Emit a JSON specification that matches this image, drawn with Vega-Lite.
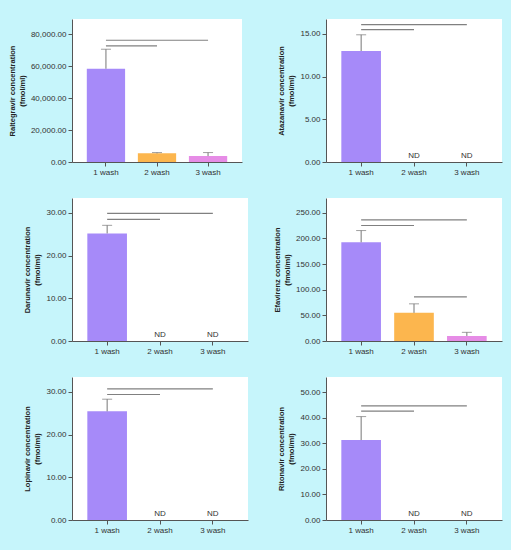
{
  "$schema": "https://vega.github.io/schema/vega-lite/v6.json",
  "background": "#C6F5FB",
  "padding": {"left": 8, "top": 19, "right": 12, "bottom": 17},
  "datasets": {
    "bars": [
      {"drug": "Raltegravir", "wash": "1 wash", "value": 58300, "upper": 70500},
      {"drug": "Raltegravir", "wash": "2 wash", "value": 5400, "upper": 5900},
      {"drug": "Raltegravir", "wash": "3 wash", "value": 3700, "upper": 5900},
      {"drug": "Atazanavir", "wash": "1 wash", "value": 13.0, "upper": 14.9},
      {"drug": "Darunavir", "wash": "1 wash", "value": 25.2, "upper": 27.1},
      {"drug": "Efavirenz", "wash": "1 wash", "value": 192.6, "upper": 215.5},
      {"drug": "Efavirenz", "wash": "2 wash", "value": 54.9, "upper": 72.5},
      {"drug": "Efavirenz", "wash": "3 wash", "value": 9.8, "upper": 16.9},
      {"drug": "Lopinavir", "wash": "1 wash", "value": 25.45, "upper": 28.3},
      {"drug": "Ritonavir", "wash": "1 wash", "value": 31.3, "upper": 40.5}
    ],
    "sig": [
      {"drug": "Raltegravir", "from": "1 wash", "to": "3 wash", "level": 76100},
      {"drug": "Raltegravir", "from": "1 wash", "to": "2 wash", "level": 72600},
      {"drug": "Atazanavir", "from": "1 wash", "to": "3 wash", "level": 16.1},
      {"drug": "Atazanavir", "from": "1 wash", "to": "2 wash", "level": 15.5},
      {"drug": "Darunavir", "from": "1 wash", "to": "3 wash", "level": 29.9},
      {"drug": "Darunavir", "from": "1 wash", "to": "2 wash", "level": 28.5},
      {"drug": "Efavirenz", "from": "1 wash", "to": "3 wash", "level": 236.3},
      {"drug": "Efavirenz", "from": "1 wash", "to": "2 wash", "level": 225.3},
      {"drug": "Efavirenz", "from": "2 wash", "to": "3 wash", "level": 86.2},
      {"drug": "Lopinavir", "from": "1 wash", "to": "3 wash", "level": 30.7},
      {"drug": "Lopinavir", "from": "1 wash", "to": "2 wash", "level": 29.4},
      {"drug": "Ritonavir", "from": "1 wash", "to": "3 wash", "level": 44.7},
      {"drug": "Ritonavir", "from": "1 wash", "to": "2 wash", "level": 42.6}
    ],
    "nd": [
      {"drug": "Atazanavir", "wash": "2 wash", "value": 0, "label": "ND"},
      {"drug": "Atazanavir", "wash": "3 wash", "value": 0, "label": "ND"},
      {"drug": "Darunavir", "wash": "2 wash", "value": 0, "label": "ND"},
      {"drug": "Darunavir", "wash": "3 wash", "value": 0, "label": "ND"},
      {"drug": "Lopinavir", "wash": "2 wash", "value": 0, "label": "ND"},
      {"drug": "Lopinavir", "wash": "3 wash", "value": 0, "label": "ND"},
      {"drug": "Ritonavir", "wash": "2 wash", "value": 0, "label": "ND"},
      {"drug": "Ritonavir", "wash": "3 wash", "value": 0, "label": "ND"}
    ]
  },
  "columns": 2,
  "spacing": {"row": 22, "column": 25},
  "concat": [
    {
      "width": 170, "height": 143,
      "layer": [
        {"data": {"name": "bars"}, "transform": [{"filter": "datum.drug == 'Raltegravir'"}],
         "mark": {"type": "bar"},
         "encoding": {
           "x": {"field": "wash", "type": "nominal", "scale": {"domain": ["1 wash", "2 wash", "3 wash"], "paddingInner": 0.25, "paddingOuter": 0.29}, "axis": {"title": null, "labelAngle": 0}},
           "y": {"field": "value", "type": "quantitative", "scale": {"domain": [0, 89400], "nice": false}, "axis": {"title": ["Raltegravir concentration", "(fmol/ml)"], "values": [0, 20000, 40000, 60000, 80000], "format": ",.2f"}},
           "color": {"field": "wash", "type": "nominal", "scale": {"domain": ["1 wash", "2 wash", "3 wash"], "range": ["#A68AF9", "#FCB64E", "#E68CE6"]}, "legend": null}
         }},
        {"data": {"name": "bars"}, "transform": [{"filter": "datum.drug == 'Raltegravir'"}],
         "mark": {"type": "rule", "color": "#777"},
         "encoding": {"x": {"field": "wash", "type": "nominal", "axis": {"title": null, "labelAngle": 0}}, "y": {"field": "value", "type": "quantitative", "axis": {"title": ["Raltegravir concentration", "(fmol/ml)"], "values": [0, 20000, 40000, 60000, 80000], "format": ",.2f"}}, "y2": {"field": "upper"}}},
        {"data": {"name": "bars"}, "transform": [{"filter": "datum.drug == 'Raltegravir'"}],
         "mark": {"type": "tick", "color": "#777", "size": 10, "thickness": 1},
         "encoding": {"x": {"field": "wash", "type": "nominal", "axis": {"title": null, "labelAngle": 0}}, "y": {"field": "upper", "type": "quantitative", "axis": {"title": ["Raltegravir concentration", "(fmol/ml)"], "values": [0, 20000, 40000, 60000, 80000], "format": ",.2f"}}}},
        {"data": {"name": "sig"}, "transform": [{"filter": "datum.drug == 'Raltegravir'"}],
         "mark": {"type": "rule", "color": "#808080", "strokeWidth": 1.2},
         "encoding": {"x": {"field": "from", "type": "nominal", "axis": {"title": null, "labelAngle": 0}}, "x2": {"field": "to"}, "y": {"field": "level", "type": "quantitative", "axis": {"title": ["Raltegravir concentration", "(fmol/ml)"], "values": [0, 20000, 40000, 60000, 80000], "format": ",.2f"}}}}
      ]
    },
    {
      "width": 176, "height": 143,
      "layer": [
        {"data": {"name": "bars"}, "transform": [{"filter": "datum.drug == 'Atazanavir'"}],
         "mark": {"type": "bar"},
         "encoding": {
           "x": {"field": "wash", "type": "nominal", "scale": {"domain": ["1 wash", "2 wash", "3 wash"], "paddingInner": 0.25, "paddingOuter": 0.29}, "axis": {"title": null, "labelAngle": 0}},
           "y": {"field": "value", "type": "quantitative", "scale": {"domain": [0, 16.75], "nice": false}, "axis": {"title": ["Atazanavir concentration", "(fmol/ml)"], "values": [0, 5, 10, 15], "format": ",.2f"}},
           "color": {"field": "wash", "type": "nominal", "scale": {"domain": ["1 wash", "2 wash", "3 wash"], "range": ["#A68AF9", "#FCB64E", "#E68CE6"]}, "legend": null}
         }},
        {"data": {"name": "bars"}, "transform": [{"filter": "datum.drug == 'Atazanavir'"}],
         "mark": {"type": "rule", "color": "#777"},
         "encoding": {"x": {"field": "wash", "type": "nominal", "axis": {"title": null, "labelAngle": 0}}, "y": {"field": "value", "type": "quantitative", "axis": {"title": ["Atazanavir concentration", "(fmol/ml)"], "values": [0, 5, 10, 15], "format": ",.2f"}}, "y2": {"field": "upper"}}},
        {"data": {"name": "bars"}, "transform": [{"filter": "datum.drug == 'Atazanavir'"}],
         "mark": {"type": "tick", "color": "#777", "size": 10, "thickness": 1},
         "encoding": {"x": {"field": "wash", "type": "nominal", "axis": {"title": null, "labelAngle": 0}}, "y": {"field": "upper", "type": "quantitative", "axis": {"title": ["Atazanavir concentration", "(fmol/ml)"], "values": [0, 5, 10, 15], "format": ",.2f"}}}},
        {"data": {"name": "sig"}, "transform": [{"filter": "datum.drug == 'Atazanavir'"}],
         "mark": {"type": "rule", "color": "#808080", "strokeWidth": 1.2},
         "encoding": {"x": {"field": "from", "type": "nominal", "axis": {"title": null, "labelAngle": 0}}, "x2": {"field": "to"}, "y": {"field": "level", "type": "quantitative", "axis": {"title": ["Atazanavir concentration", "(fmol/ml)"], "values": [0, 5, 10, 15], "format": ",.2f"}}}},
        {"data": {"name": "nd"}, "transform": [{"filter": "datum.drug == 'Atazanavir'"}],
         "mark": {"type": "text", "baseline": "bottom", "dy": -2, "fontSize": 8, "fill": "#333"},
         "encoding": {"x": {"field": "wash", "type": "nominal", "axis": {"title": null, "labelAngle": 0}}, "y": {"field": "value", "type": "quantitative", "axis": {"title": ["Atazanavir concentration", "(fmol/ml)"], "values": [0, 5, 10, 15], "format": ",.2f"}}, "text": {"field": "label"}}}
      ]
    },
    {
      "width": 176, "height": 143,
      "layer": [
        {"data": {"name": "bars"}, "transform": [{"filter": "datum.drug == 'Darunavir'"}],
         "mark": {"type": "bar"},
         "encoding": {
           "x": {"field": "wash", "type": "nominal", "scale": {"domain": ["1 wash", "2 wash", "3 wash"], "paddingInner": 0.25, "paddingOuter": 0.29}, "axis": {"title": null, "labelAngle": 0}},
           "y": {"field": "value", "type": "quantitative", "scale": {"domain": [0, 33.5], "nice": false}, "axis": {"title": ["Darunavir concentration", "(fmol/ml)"], "values": [0, 10, 20, 30], "format": ",.2f"}},
           "color": {"field": "wash", "type": "nominal", "scale": {"domain": ["1 wash", "2 wash", "3 wash"], "range": ["#A68AF9", "#FCB64E", "#E68CE6"]}, "legend": null}
         }},
        {"data": {"name": "bars"}, "transform": [{"filter": "datum.drug == 'Darunavir'"}],
         "mark": {"type": "rule", "color": "#777"},
         "encoding": {"x": {"field": "wash", "type": "nominal", "axis": {"title": null, "labelAngle": 0}}, "y": {"field": "value", "type": "quantitative", "axis": {"title": ["Darunavir concentration", "(fmol/ml)"], "values": [0, 10, 20, 30], "format": ",.2f"}}, "y2": {"field": "upper"}}},
        {"data": {"name": "bars"}, "transform": [{"filter": "datum.drug == 'Darunavir'"}],
         "mark": {"type": "tick", "color": "#777", "size": 10, "thickness": 1},
         "encoding": {"x": {"field": "wash", "type": "nominal", "axis": {"title": null, "labelAngle": 0}}, "y": {"field": "upper", "type": "quantitative", "axis": {"title": ["Darunavir concentration", "(fmol/ml)"], "values": [0, 10, 20, 30], "format": ",.2f"}}}},
        {"data": {"name": "sig"}, "transform": [{"filter": "datum.drug == 'Darunavir'"}],
         "mark": {"type": "rule", "color": "#808080", "strokeWidth": 1.2},
         "encoding": {"x": {"field": "from", "type": "nominal", "axis": {"title": null, "labelAngle": 0}}, "x2": {"field": "to"}, "y": {"field": "level", "type": "quantitative", "axis": {"title": ["Darunavir concentration", "(fmol/ml)"], "values": [0, 10, 20, 30], "format": ",.2f"}}}},
        {"data": {"name": "nd"}, "transform": [{"filter": "datum.drug == 'Darunavir'"}],
         "mark": {"type": "text", "baseline": "bottom", "dy": -2, "fontSize": 8, "fill": "#333"},
         "encoding": {"x": {"field": "wash", "type": "nominal", "axis": {"title": null, "labelAngle": 0}}, "y": {"field": "value", "type": "quantitative", "axis": {"title": ["Darunavir concentration", "(fmol/ml)"], "values": [0, 10, 20, 30], "format": ",.2f"}}, "text": {"field": "label"}}}
      ]
    },
    {
      "width": 176, "height": 143,
      "layer": [
        {"data": {"name": "bars"}, "transform": [{"filter": "datum.drug == 'Efavirenz'"}],
         "mark": {"type": "bar"},
         "encoding": {
           "x": {"field": "wash", "type": "nominal", "scale": {"domain": ["1 wash", "2 wash", "3 wash"], "paddingInner": 0.25, "paddingOuter": 0.29}, "axis": {"title": null, "labelAngle": 0}},
           "y": {"field": "value", "type": "quantitative", "scale": {"domain": [0, 279], "nice": false}, "axis": {"title": ["Efavirenz concentration", "(fmol/ml)"], "values": [0, 50, 100, 150, 200, 250], "format": ",.2f"}},
           "color": {"field": "wash", "type": "nominal", "scale": {"domain": ["1 wash", "2 wash", "3 wash"], "range": ["#A68AF9", "#FCB64E", "#E68CE6"]}, "legend": null}
         }},
        {"data": {"name": "bars"}, "transform": [{"filter": "datum.drug == 'Efavirenz'"}],
         "mark": {"type": "rule", "color": "#777"},
         "encoding": {"x": {"field": "wash", "type": "nominal", "axis": {"title": null, "labelAngle": 0}}, "y": {"field": "value", "type": "quantitative", "axis": {"title": ["Efavirenz concentration", "(fmol/ml)"], "values": [0, 50, 100, 150, 200, 250], "format": ",.2f"}}, "y2": {"field": "upper"}}},
        {"data": {"name": "bars"}, "transform": [{"filter": "datum.drug == 'Efavirenz'"}],
         "mark": {"type": "tick", "color": "#777", "size": 10, "thickness": 1},
         "encoding": {"x": {"field": "wash", "type": "nominal", "axis": {"title": null, "labelAngle": 0}}, "y": {"field": "upper", "type": "quantitative", "axis": {"title": ["Efavirenz concentration", "(fmol/ml)"], "values": [0, 50, 100, 150, 200, 250], "format": ",.2f"}}}},
        {"data": {"name": "sig"}, "transform": [{"filter": "datum.drug == 'Efavirenz'"}],
         "mark": {"type": "rule", "color": "#808080", "strokeWidth": 1.2},
         "encoding": {"x": {"field": "from", "type": "nominal", "axis": {"title": null, "labelAngle": 0}}, "x2": {"field": "to"}, "y": {"field": "level", "type": "quantitative", "axis": {"title": ["Efavirenz concentration", "(fmol/ml)"], "values": [0, 50, 100, 150, 200, 250], "format": ",.2f"}}}}
      ]
    },
    {
      "width": 176, "height": 143,
      "layer": [
        {"data": {"name": "bars"}, "transform": [{"filter": "datum.drug == 'Lopinavir'"}],
         "mark": {"type": "bar"},
         "encoding": {
           "x": {"field": "wash", "type": "nominal", "scale": {"domain": ["1 wash", "2 wash", "3 wash"], "paddingInner": 0.25, "paddingOuter": 0.29}, "axis": {"title": null, "labelAngle": 0}},
           "y": {"field": "value", "type": "quantitative", "scale": {"domain": [0, 33.5], "nice": false}, "axis": {"title": ["Lopinavir concentration", "(fmol/ml)"], "values": [0, 10, 20, 30], "format": ",.2f"}},
           "color": {"field": "wash", "type": "nominal", "scale": {"domain": ["1 wash", "2 wash", "3 wash"], "range": ["#A68AF9", "#FCB64E", "#E68CE6"]}, "legend": null}
         }},
        {"data": {"name": "bars"}, "transform": [{"filter": "datum.drug == 'Lopinavir'"}],
         "mark": {"type": "rule", "color": "#777"},
         "encoding": {"x": {"field": "wash", "type": "nominal", "axis": {"title": null, "labelAngle": 0}}, "y": {"field": "value", "type": "quantitative", "axis": {"title": ["Lopinavir concentration", "(fmol/ml)"], "values": [0, 10, 20, 30], "format": ",.2f"}}, "y2": {"field": "upper"}}},
        {"data": {"name": "bars"}, "transform": [{"filter": "datum.drug == 'Lopinavir'"}],
         "mark": {"type": "tick", "color": "#777", "size": 10, "thickness": 1},
         "encoding": {"x": {"field": "wash", "type": "nominal", "axis": {"title": null, "labelAngle": 0}}, "y": {"field": "upper", "type": "quantitative", "axis": {"title": ["Lopinavir concentration", "(fmol/ml)"], "values": [0, 10, 20, 30], "format": ",.2f"}}}},
        {"data": {"name": "sig"}, "transform": [{"filter": "datum.drug == 'Lopinavir'"}],
         "mark": {"type": "rule", "color": "#808080", "strokeWidth": 1.2},
         "encoding": {"x": {"field": "from", "type": "nominal", "axis": {"title": null, "labelAngle": 0}}, "x2": {"field": "to"}, "y": {"field": "level", "type": "quantitative", "axis": {"title": ["Lopinavir concentration", "(fmol/ml)"], "values": [0, 10, 20, 30], "format": ",.2f"}}}},
        {"data": {"name": "nd"}, "transform": [{"filter": "datum.drug == 'Lopinavir'"}],
         "mark": {"type": "text", "baseline": "bottom", "dy": -2, "fontSize": 8, "fill": "#333"},
         "encoding": {"x": {"field": "wash", "type": "nominal", "axis": {"title": null, "labelAngle": 0}}, "y": {"field": "value", "type": "quantitative", "axis": {"title": ["Lopinavir concentration", "(fmol/ml)"], "values": [0, 10, 20, 30], "format": ",.2f"}}, "text": {"field": "label"}}}
      ]
    },
    {
      "width": 176, "height": 143,
      "layer": [
        {"data": {"name": "bars"}, "transform": [{"filter": "datum.drug == 'Ritonavir'"}],
         "mark": {"type": "bar"},
         "encoding": {
           "x": {"field": "wash", "type": "nominal", "scale": {"domain": ["1 wash", "2 wash", "3 wash"], "paddingInner": 0.25, "paddingOuter": 0.29}, "axis": {"title": null, "labelAngle": 0}},
           "y": {"field": "value", "type": "quantitative", "scale": {"domain": [0, 56], "nice": false}, "axis": {"title": ["Ritonavir concentration", "(fmol/ml)"], "values": [0, 10, 20, 30, 40, 50], "format": ",.2f"}},
           "color": {"field": "wash", "type": "nominal", "scale": {"domain": ["1 wash", "2 wash", "3 wash"], "range": ["#A68AF9", "#FCB64E", "#E68CE6"]}, "legend": null}
         }},
        {"data": {"name": "bars"}, "transform": [{"filter": "datum.drug == 'Ritonavir'"}],
         "mark": {"type": "rule", "color": "#777"},
         "encoding": {"x": {"field": "wash", "type": "nominal", "axis": {"title": null, "labelAngle": 0}}, "y": {"field": "value", "type": "quantitative", "axis": {"title": ["Ritonavir concentration", "(fmol/ml)"], "values": [0, 10, 20, 30, 40, 50], "format": ",.2f"}}, "y2": {"field": "upper"}}},
        {"data": {"name": "bars"}, "transform": [{"filter": "datum.drug == 'Ritonavir'"}],
         "mark": {"type": "tick", "color": "#777", "size": 10, "thickness": 1},
         "encoding": {"x": {"field": "wash", "type": "nominal", "axis": {"title": null, "labelAngle": 0}}, "y": {"field": "upper", "type": "quantitative", "axis": {"title": ["Ritonavir concentration", "(fmol/ml)"], "values": [0, 10, 20, 30, 40, 50], "format": ",.2f"}}}},
        {"data": {"name": "sig"}, "transform": [{"filter": "datum.drug == 'Ritonavir'"}],
         "mark": {"type": "rule", "color": "#808080", "strokeWidth": 1.2},
         "encoding": {"x": {"field": "from", "type": "nominal", "axis": {"title": null, "labelAngle": 0}}, "x2": {"field": "to"}, "y": {"field": "level", "type": "quantitative", "axis": {"title": ["Ritonavir concentration", "(fmol/ml)"], "values": [0, 10, 20, 30, 40, 50], "format": ",.2f"}}}},
        {"data": {"name": "nd"}, "transform": [{"filter": "datum.drug == 'Ritonavir'"}],
         "mark": {"type": "text", "baseline": "bottom", "dy": -2, "fontSize": 8, "fill": "#333"},
         "encoding": {"x": {"field": "wash", "type": "nominal", "axis": {"title": null, "labelAngle": 0}}, "y": {"field": "value", "type": "quantitative", "axis": {"title": ["Ritonavir concentration", "(fmol/ml)"], "values": [0, 10, 20, 30, 40, 50], "format": ",.2f"}}, "text": {"field": "label"}}}
      ]
    }
  ],
  "config": {
    "font": "Liberation Sans",
    "view": {"fill": "white", "stroke": null},
    "axis": {"domainColor": "#555", "tickColor": "#555", "labelColor": "#333", "labelFont": "Liberation Sans", "labelFontSize": 8, "titleFont": "Liberation Sans", "titleFontSize": 7.5, "titleFontWeight": "bold", "titleColor": "#222", "titleLineHeight": 10, "titlePadding": 4, "grid": false, "tickSize": 4, "labelPadding": 2}
  }
}
